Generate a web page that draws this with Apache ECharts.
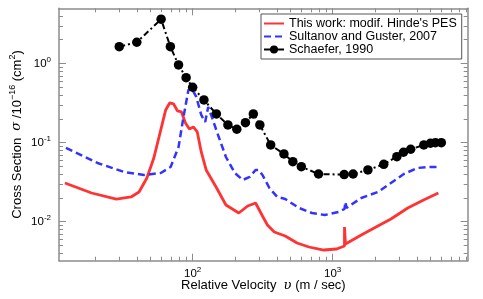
<!DOCTYPE html>
<html>
<head>
<meta charset="utf-8">
<script src="https://cdn.jsdelivr.net/npm/echarts@6/dist/echarts.min.js"></script>
<style>html,body{margin:0;padding:0;background:#fff;}#c{width:483px;height:299px;}</style>
</head>
<body>
<div id="c"></div>
<script>
// ---- data (velocity m/s, cross section 1e-16 cm^2) ----
const redV = [12.24,18.97,28.5,36.3,41.4,47.1,52.8,59.2,64.2,68.5,73.1,78.0,83.2,88.8,94.8,101.1,107.9,115.2,124.9,147,172.9,213.6,247.2,281.5,315.4,342,383,458.5,557,677,864,1067,1215,1215,1235,1602,1979,2608,3439,4460,5690];
const redS = [0.0308,0.0230,0.0193,0.0205,0.0237,0.0356,0.0638,0.1444,0.2586,0.3172,0.3080,0.2512,0.2439,0.1770,0.1487,0.1576,0.1362,0.0760,0.0450,0.0274,0.0162,0.01285,0.01576,0.0172,0.01177,0.00906,0.00739,0.00657,0.00536,0.00477,0.00437,0.0045,0.00491,0.00854,0.00521,0.00677,0.0083,0.01079,0.01487,0.01877,0.0230];
const blueV = [12.44,20.9,32.4,44.9,59.2,69.6,79.3,86.0,93.3,97.9,106.2,115.2,122.9,129.1,135.5,151.8,172.9,200.1,227.9,255.5,281.5,295.6,315.4,353.5,402.5,458.5,575.5,710.9,878,1102,1215,1235,1255,1602,2111,2608,3222,4045,4759,5598];
const blueS = [0.0854,0.0552,0.0424,0.0389,0.0412,0.0491,0.0880,0.2109,0.4632,0.4912,0.3778,0.2236,0.1823,0.2822,0.2236,0.1248,0.0657,0.0412,0.0336,0.0367,0.0450,0.0450,0.0389,0.0266,0.0205,0.0193,0.01487,0.01285,0.01212,0.01323,0.01443,0.0177,0.01487,0.0199,0.0237,0.0308,0.0400,0.0477,0.0491,0.0491];
const blackV = [29.9,39.9,59.5,69.3,79.3,89.8,100,120.4,147.7,178.6,206.8,238.2,271.3,302,361,448.8,519.6,597.5,792.7,1209,1400,1786,2317,2875,3206,3610,4481,4995,5420,5975];
const blackS = [1.636,1.860,3.637,1.636,0.960,0.663,0.501,0.346,0.230,0.167,0.1474,0.1786,0.230,0.167,0.0932,0.0717,0.0573,0.0495,0.0400,0.0393,0.0400,0.0450,0.0531,0.0663,0.0754,0.0823,0.0932,0.0980,0.0997,0.0997];
const seriesNames = ["This work: modif. Hinde's PES", "Sultanov and Guster, 2007", "Schaefer, 1990"];
// tick values
const xMajor = [100, 1000];
const xMinor = [20,30,40,50,60,70,80,90,200,300,400,500,600,700,800,900,2000,3000,4000,5000,6000,7000,8000,9000];
const yMajor = [0.01, 0.1, 1];
const yMinor = [0.004,0.005,0.006,0.007,0.008,0.009,0.02,0.03,0.04,0.05,0.06,0.07,0.08,0.09,0.2,0.3,0.4,0.5,0.6,0.7,0.8,0.9,2,3,4];
const xRange = [11.1, 9220];
const yRange = [0.0032, 5];

const FONT = "'Liberation Sans', Arial, Helvetica, sans-serif";
const GRAY = '#8c8c8c';
const L = Math.log10;
const zip = (a, b) => a.map((v, i) => [v, b[i]]);
const supFmt = v => '{b|10}{s|' + Math.round(v) + '}';
const rich = {
  b: {fontSize: 11.5, fontFamily: FONT, color: '#000', lineHeight: 16},
  s: {fontSize: 8, fontFamily: FONT, color: '#000', verticalAlign: 'top', lineHeight: 9}
};

// data axis (log scale) – carries the series and the frame line
function dataAxis(dim, pos, opts) {
  const r = dim === 'x' ? xRange : yRange;
  return Object.assign({
    type: 'log', logBase: 10, min: r[0], max: r[1], position: pos,
    axisLine: {show: true, onZero: false, lineStyle: {color: GRAY, width: 1.5}},
    axisTick: {show: false}, axisLabel: {show: false},
    splitLine: {show: false}, minorTick: {show: false}, minorSplitLine: {show: false}
  }, opts || {});
}
// tick axis (decades) – ticks / labels at given values
function tickAxis(dim, pos, vals, len, label) {
  const r = dim === 'x' ? xRange : yRange;
  const cv = vals.map(L);
  const ax = {
    type: 'value', min: L(r[0]), max: L(r[1]), position: pos,
    axisLine: {show: false, onZero: false},
    axisTick: {show: true, inside: true, length: len, customValues: cv, lineStyle: {color: GRAY, width: 1}},
    axisLabel: {show: false},
    splitLine: {show: false}, minorTick: {show: false}, minorSplitLine: {show: false}
  };
  if (label) ax.axisLabel = {show: true, customValues: cv, formatter: supFmt, rich: rich, margin: label};
  return ax;
}

const chart = echarts.init(document.getElementById('c'), null, {renderer: 'canvas'});
chart.setOption({
  animation: false,
  backgroundColor: '#fff',
  grid: {left: 54, right: 15.3, top: 8.3, bottom: 38.3, containLabel: false},
  legend: {
    orient: 'vertical', left: 261, top: 14,
    padding: [3, 5, 3, 2], itemGap: 0, itemWidth: 20, itemHeight: 10,
    borderColor: '#555', borderWidth: 1, backgroundColor: '#fff',
    textStyle: {fontSize: 12.5, color: '#000', fontFamily: FONT, lineHeight: 13},
    data: [
      {name: seriesNames[0], itemStyle: {color: 'rgba(0,0,0,0)', borderWidth: 0, opacity: 0}},
      {name: seriesNames[1], itemStyle: {color: 'rgba(0,0,0,0)', borderWidth: 0, opacity: 0}},
      {name: seriesNames[2], lineStyle: {type: 'solid'}}
    ]
  },
  xAxis: [
    dataAxis('x', 'bottom', {
      name: '{n|Relative Velocity  }{i|υ}{n| (m / sec)}',
      nameLocation: 'middle', nameGap: 18,
      nameTextStyle: {rich: {
        n: {fontSize: 13, fontFamily: FONT, color: '#000'},
        i: {fontSize: 13, fontFamily: "'DejaVu Serif', serif", fontStyle: 'italic', color: '#000'}
      }}
    }),
    dataAxis('x', 'top'),
    tickAxis('x', 'bottom', xMinor, 4),
    tickAxis('x', 'bottom', xMajor, 7, 5),
    tickAxis('x', 'top', xMinor, 4),
    tickAxis('x', 'top', xMajor, 7)
  ],
  yAxis: [
    dataAxis('y', 'left', {
      name: '{n|Cross Section  }{i|σ}{n| /10}{s|−16}{n| (cm}{s|2}{n|)}',
      nameLocation: 'middle', nameGap: 33,
      nameTextStyle: {rich: {
        n: {fontSize: 13, fontFamily: FONT, color: '#000', lineHeight: 18},
        i: {fontSize: 13, fontFamily: "'DejaVu Serif', serif", fontStyle: 'italic', color: '#000', lineHeight: 18},
        s: {fontSize: 9, fontFamily: FONT, color: '#000', verticalAlign: 'top', lineHeight: 10}
      }}
    }),
    dataAxis('y', 'right'),
    tickAxis('y', 'left', yMinor, 4),
    tickAxis('y', 'left', yMajor, 7, 8),
    tickAxis('y', 'right', yMinor, 4),
    tickAxis('y', 'right', yMajor, 7)
  ],
  series: [
    {name: seriesNames[0], type: 'line', data: zip(redV, redS), symbol: 'none',
     lineStyle: {color: '#ff3333', width: 2.8}, itemStyle: {color: '#ff3333'}, z: 2},
    {name: seriesNames[1], type: 'line', data: zip(blueV, blueS), symbol: 'none',
     lineStyle: {color: '#3333ff', width: 2.5, type: [7, 4]}, itemStyle: {color: '#3333ff'}, z: 3},
    {name: seriesNames[2], type: 'line', data: zip(blackV, blackS), symbol: 'circle', symbolSize: 9.5,
     lineStyle: {color: '#000', width: 2, type: [6, 3, 2, 3]}, itemStyle: {color: '#000'}, z: 4}
  ]
});
</script>
</body>
</html>
